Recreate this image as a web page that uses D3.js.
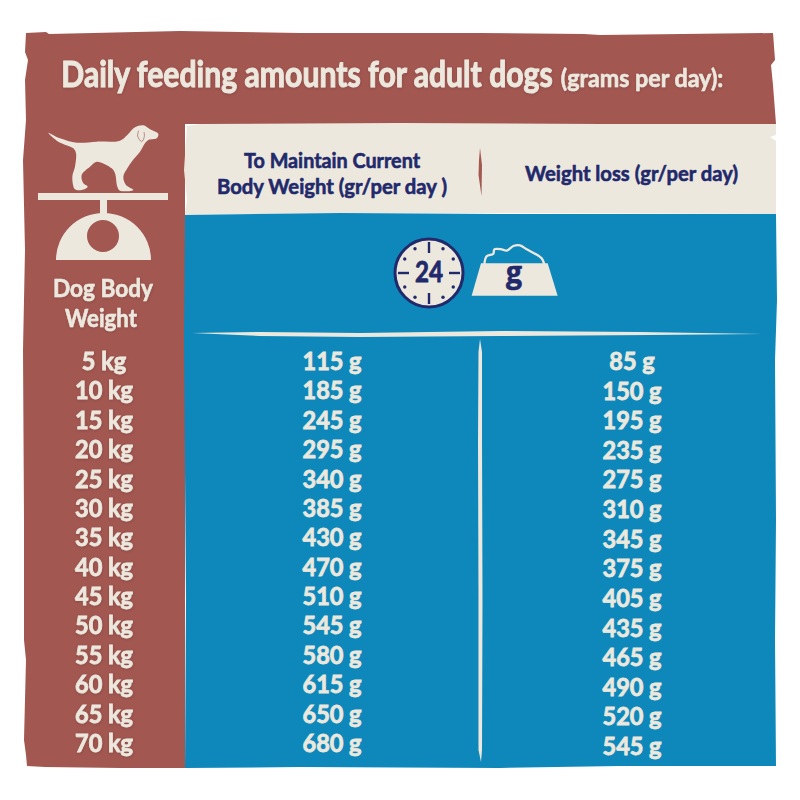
<!DOCTYPE html>
<html>
<head>
<meta charset="utf-8">
<script src="https://cdnjs.cloudflare.com/ajax/libs/d3/7.8.5/d3.min.js"></script>
<style>
  html, body { margin: 0; background: #fff; }
  svg { display: block; }
  text { font-family: 'Lato', 'Open Sans', sans-serif; font-weight: 700; text-anchor: middle; paint-order: stroke; }
</style>
</head>
<body>
<svg width="800" height="800"></svg>
<script>
const weights = [5, 10, 15, 20, 25, 30, 35, 40, 45, 50, 55, 60, 65, 70];
const maintain = [115, 185, 245, 295, 340, 385, 430, 470, 510, 545, 580, 615, 650, 680];
const loss = [85, 150, 195, 235, 275, 310, 345, 375, 405, 435, 465, 490, 520, 545];

const brown = '#a25751';
const cream = '#ece8de';
const blue = '#0e88bb';
const navy = '#22296b';

const svg = d3.select('svg');
const line = d3.line();
const smooth = d3.line().curve(d3.curveCatmullRom);
const smoothClosed = d3.line().curve(d3.curveCatmullRomClosed);

const shadow = svg.append('defs').append('filter').attr('id', 'soft')
    .attr('x', '-10%').attr('y', '-10%').attr('width', '120%').attr('height', '130%');
shadow.append('feDropShadow')
    .attr('dx', 0.4).attr('dy', 0.8).attr('stdDeviation', 1)
    .attr('flood-color', '#5e2d2a').attr('flood-opacity', 0.35);

// torn paper panels
svg.append('path')
    .attr('d', line([[26, 33], [46, 32], [49, 34], [180, 31], [300, 33], [480, 33], [584, 34], [600, 35],
      [773, 33], [775, 60], [771, 65], [773, 85], [776, 124], [185, 124], [185, 768], [120, 768], [45, 767],
      [27, 766], [26, 755], [24, 740], [26, 660], [24, 640], [24, 520], [23, 350], [25, 250], [23, 160],
      [26, 120], [25, 80], [28, 60], [25, 52]]) + 'Z')
    .attr('fill', brown);
svg.append('path')
    .attr('d', line([[187, 126], [200, 124], [400, 123], [600, 124], [776, 124], [776, 135], [770, 137],
      [776, 141], [776, 214], [500, 213], [340, 213], [185, 215], [187, 200], [184, 170], [186, 140]]) + 'Z')
    .attr('fill', cream);
svg.append('path')
    .attr('d', line([[185, 215], [340, 213], [500, 214], [776, 214], [777, 300], [775, 360], [776, 520],
      [775, 640], [776, 766], [620, 766], [500, 768], [300, 767], [185, 768], [186, 600], [184, 340]]) + 'Z')
    .attr('fill', blue);

// rough dividers
svg.append('path')
    .attr('d', line([[192, 333], [260, 332], [360, 333], [500, 331], [640, 332], [762, 334], [650, 335],
      [500, 336], [360, 337], [260, 336]]) + 'Z')
    .attr('fill', cream);
svg.append('path')
    .attr('d', line([[480, 339], [482, 352], [482, 440], [482.5, 600], [482, 750], [481, 762], [478.5, 750],
      [478.5, 600], [478, 440], [478.5, 352]]) + 'Z')
    .attr('fill', cream);
svg.append('path')
    .attr('d', line([[480, 148], [482, 165], [481.5, 196], [478.5, 175], [479, 160]]) + 'Z')
    .attr('fill', brown);

// width is the width the text takes in the picture
function label(x, y, str, size, fill, width, useShadow) {
  const t = svg.append('text')
      .attr('x', x)
      .attr('y', y)
      .attr('font-size', size)
      .attr('fill', fill)
      .attr('stroke', fill)
      .attr('stroke-width', 0.6)
      .attr('textLength', width)
      .attr('lengthAdjust', 'spacingAndGlyphs')
      .text(str);
  if (useShadow) t.attr('filter', 'url(#soft)');
  return t;
}

// title, squeezed with a scale so the two parts keep clear of each other
function titlePart(x, str, size, xScale, strokeWidth) {
  svg.append('text')
      .attr('transform', `translate(${x},87) scale(${xScale},1)`)
      .attr('font-size', size)
      .attr('fill', cream)
      .attr('stroke', cream)
      .attr('stroke-width', strokeWidth)
      .attr('filter', 'url(#soft)')
      .text(str);
}
titlePart(307, 'Daily feeding amounts for adult dogs', 36, 0.838, 1);
titlePart(642, '(grams per day):', 25, 0.93, 0.6);

// column headers
label(332, 168, 'To Maintain Current', 21.5, navy, 176);
label(332, 194, 'Body Weight (gr/per day )', 21.5, navy, 230);
label(631.5, 181, 'Weight loss (gr/per day)', 21.5, navy, 213);
label(103, 297, 'Dog Body', 25, cream, 100, true);
label(101, 327, 'Weight', 25, cream, 72, true);

const dog = svg.append('g').attr('transform', 'translate(40,120) scale(0.3333)');
dog.append('path')
    .attr('d', smoothClosed([[25, 38], [60, 55], [110, 68], [170, 65], [240, 62], [262, 45], [285, 22], [310, 16],
      [330, 28], [355, 42], [350, 55], [325, 60], [315, 70], [300, 95], [275, 125], [262, 145], [250, 170],
      [258, 195], [280, 210], [240, 212], [232, 200], [225, 160], [215, 145], [170, 125], [150, 140], [125, 165],
      [130, 190], [143, 200], [125, 210], [105, 208], [97, 170], [105, 140], [108, 100], [100, 85], [55, 65]]))
    .attr('fill', cream);
dog.append('path')
    .attr('d', smooth([[296, 32], [293, 48], [305, 65], [313, 50], [312, 36]]))
    .attr('fill', 'none')
    .attr('stroke', brown)
    .attr('stroke-width', 2);
svg.append('rect').attr('x', 38).attr('y', 193).attr('width', 130).attr('height', 7).attr('fill', cream);
svg.append('rect').attr('x', 100).attr('y', 200).attr('width', 7).attr('height', 14).attr('fill', cream);
svg.append('path')
    .attr('fill-rule', 'evenodd')
    .attr('d', 'M56,260 A47.5,47 0 0 1 151,260 Z M87,236 A16,16 0 1 0 119,236 A16,16 0 1 0 87,236 Z')
    .attr('fill', cream);

// clock
const clock = svg.append('g').attr('transform', 'translate(429,273)');
clock.append('circle').attr('r', 34).attr('fill', cream).attr('stroke', navy).attr('stroke-width', 3);
d3.range(12).forEach(i => {
  const a = i * Math.PI / 6;
  if (i % 3 === 0) {
    clock.append('line')
        .attr('x1', 31 * Math.sin(a)).attr('y1', -31 * Math.cos(a))
        .attr('x2', 20 * Math.sin(a)).attr('y2', -20 * Math.cos(a))
        .attr('stroke', navy).attr('stroke-width', 2.4);
  } else {
    clock.append('circle')
        .attr('cx', 28 * Math.sin(a)).attr('cy', -28 * Math.cos(a))
        .attr('r', 1.7).attr('fill', navy);
  }
});
clock.append('text').attr('y', 9).attr('font-size', 28).attr('fill', navy)
    .attr('stroke', navy).attr('stroke-width', 0.8)
    .attr('textLength', 28).attr('lengthAdjust', 'spacingAndGlyphs').text('24');

// bowl
const bowl = svg.append('g').attr('transform', 'translate(465,235) scale(0.3333)');
bowl.append('path')
    .attr('d', line([[48, 85], [248, 85], [278, 182], [20, 182]]) + 'Z')
    .attr('fill', cream);
bowl.append('path')
    .attr('d', smooth([[58, 88], [65, 64], [85, 56], [88, 43], [110, 43], [125, 47], [145, 33], [165, 31],
      [185, 43], [210, 56], [230, 70], [238, 88]]))
    .attr('fill', 'none')
    .attr('stroke', cream)
    .attr('stroke-width', 7);
label(514, 283, 'g', 30, navy, 16).style('font-family', "'Open Sans', sans-serif");

// table rows
const yLeft = d3.scalePoint().domain(weights).range([370, 752]);
const yRight = d3.scalePoint().domain(weights).range([370, 755]);

function column(x, values, scale, suffix, useShadow) {
  svg.append('g')
      .attr('filter', useShadow ? 'url(#soft)' : null)
      .selectAll('text')
      .data(values)
      .join('text')
      .attr('transform', (d, i) => `translate(${x},${scale(weights[i])}) scale(0.98,1)`)
      .attr('font-size', 24)
      .attr('fill', cream)
      .attr('stroke', cream)
      .attr('stroke-width', 0.8)
      .text(d => `${d} ${suffix}`);
}

column(104, weights, yLeft, 'kg', true);
column(332, maintain, yLeft, 'g', false);
column(632, loss, yRight, 'g', false);
</script>
</body>
</html>
